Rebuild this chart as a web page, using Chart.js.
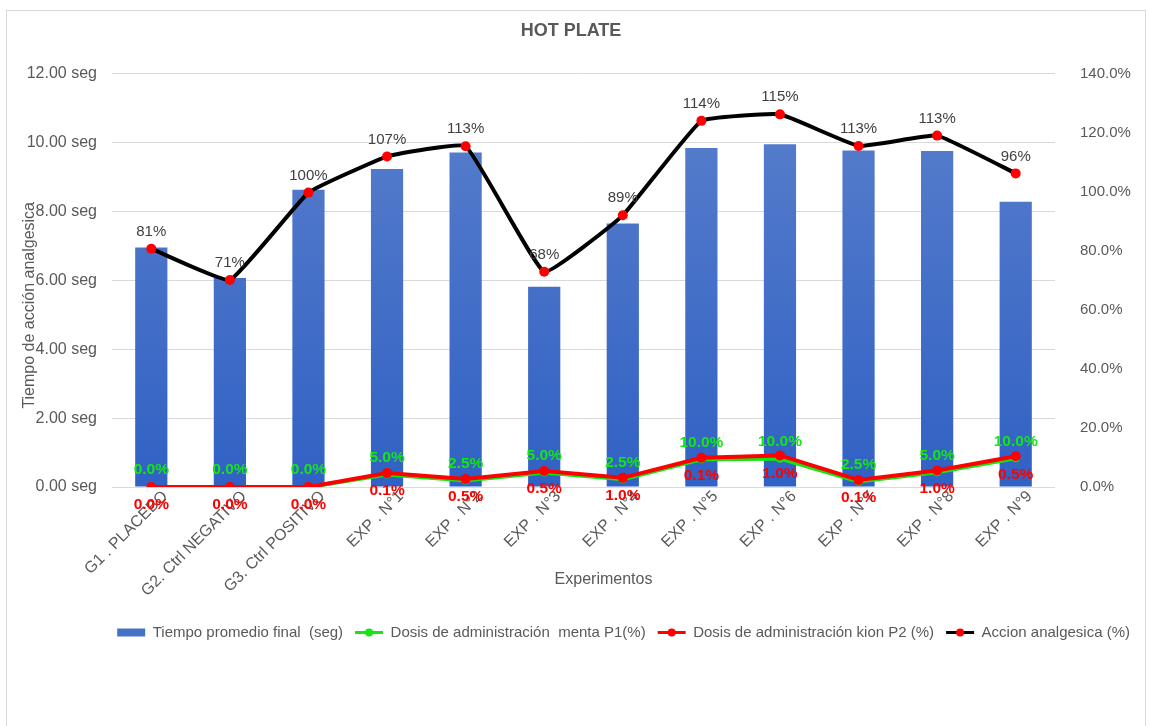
<!DOCTYPE html>
<html>
<head>
<meta charset="utf-8">
<title>HOT PLATE</title>
<script src="https://cdn.jsdelivr.net/npm/chart.js@4.4.1/dist/chart.umd.min.js"></script>
<style>
    html, body { margin: 0; padding: 0; background: #fff; overflow: hidden; }
    .frame { position: absolute; left: 6px; top: 10px; width: 1138px; height: 740px; border: 1px solid #d9d9d9; }
    .wrap { position: absolute; left: 0; top: 0; width: 1149px; height: 726px; }
</style>
</head>
<body>
<div class="frame"></div>
<div class="wrap"><canvas id="hotPlateChart"></canvas></div>
<script>
// Data
const categories = ['G1 . PLACEBO', 'G2. Ctrl NEGATIVO', 'G3. Ctrl POSITIVO', 'EXP . N°1', 'EXP . N°2', 'EXP . N°3',
    'EXP . N°4', 'EXP . N°5', 'EXP . N°6', 'EXP . N°7', 'EXP . N°8', 'EXP . N°9'];

// bars, left axis (seg)
const tiempoPromedio = [6.95, 6.07, 8.63, 9.23, 9.71, 5.81, 7.65, 9.84, 9.95, 9.77, 9.75, 8.28];

// lines, right axis (%)
const dosisMenta = [0, 0, 0, 4.2, 2.2, 4.9, 2.6, 9.4, 9.6, 1.9, 5.0, 9.7];
const dosisMentaLabels = ['0.0%', '0.0%', '0.0%', '5.0%', '2.5%', '5.0%', '2.5%', '10.0%', '10.0%', '2.5%', '5.0%', '10.0%'];

const dosisKion = [0, 0, 0, 4.7, 2.7, 5.4, 3.1, 9.9, 10.7, 2.4, 5.6, 10.4];
const dosisKionLabels = ['0.0%', '0.0%', '0.0%', '0.1%', '0.5%', '0.5%', '1.0%', '0.1%', '1.0%', '0.1%', '1.0%', '0.5%'];

const accionAnalgesica = [80.7, 70.1, 99.7, 111.9, 115.4, 72.9, 92.0, 124.0, 126.2, 115.5, 119.0, 106.2];
const accionLabels = ['81%', '71%', '100%', '107%', '113%', '68%', '89%', '114%', '115%', '113%', '113%', '96%'];

const seriesNames = ['Tiempo promedio final  (seg)', 'Dosis de administración  menta P1(%)',
    'Dosis de administración kion P2 (%)', 'Accion analgesica (%)'];

const FONT = '"Liberation Sans", Arial, sans-serif';
const GREY = '#595959';
const GREEN = '#14e614';
const RED = '#ff0000';

Chart.defaults.font.family = FONT;
Chart.defaults.color = GREY;

// bar fill: light blue on top fading to a deeper blue
function barGradient(context) {
    const area = context.chart.chartArea;
    if (!area) return '#4472c4';
    const g = context.chart.ctx.createLinearGradient(0, area.top, 0, area.bottom);
    g.addColorStop(0, '#5b80cc');
    g.addColorStop(1, '#3061c4');
    return g;
}

// value labels next to line points
const pointLabels = {
    id: 'pointLabels',
    afterDatasetsDraw(chart) {
        const ctx = chart.ctx;
        chart.data.datasets.forEach((ds, i) => {
            if (!ds.valueLabels) return;
            const meta = chart.getDatasetMeta(i);
            ctx.save();
            ctx.font = ds.labelFont;
            ctx.fillStyle = ds.labelColor;
            ctx.textAlign = 'center';
            ctx.textBaseline = 'middle';
            meta.data.forEach((pt, j) => {
                ctx.fillText(ds.valueLabels[j], pt.x, pt.y + ds.labelOffset);
            });
            ctx.restore();
        });
    }
};

// axis titles, placed like the original
const axisTitles = {
    id: 'axisTitles',
    afterDraw(chart) {
        const ctx = chart.ctx;
        const area = chart.chartArea;
        ctx.save();
        ctx.font = '16px ' + FONT;
        ctx.fillStyle = GREY;
        ctx.textAlign = 'center';
        ctx.textBaseline = 'middle';
        ctx.fillText('Experimentos', (area.left + area.right) / 2 + 20, 580);
        ctx.translate(30, (area.top + area.bottom) / 2 + 25);
        ctx.rotate(-Math.PI / 2);
        ctx.fillText('Tiempo de acción analgesica', 0, 0);
        ctx.restore();
    }
};

// marker dot in the middle of the line legend swatches
const legendDots = {
    id: 'legendDots',
    afterDraw(chart) {
        const legend = chart.legend;
        if (!legend || !legend.legendHitBoxes) return;
        const ctx = chart.ctx;
        const boxW = legend.options.labels.pointStyleWidth;
        legend.legendItems.forEach((item, i) => {
            if (!item.dotColor) return;
            const hb = legend.legendHitBoxes[i];
            ctx.save();
            ctx.fillStyle = item.dotColor;
            ctx.beginPath();
            ctx.arc(hb.left + boxW / 2, hb.top + hb.height / 2, 4, 0, Math.PI * 2);
            ctx.fill();
            ctx.restore();
        });
    }
};

const legendStyles = [
    { fillStyle: '#4472c4', strokeStyle: '#4472c4', lineWidth: 0, pointStyle: 'rect', dotColor: null },
    { fillStyle: GREEN, strokeStyle: GREEN, lineWidth: 3, pointStyle: 'line', dotColor: GREEN },
    { fillStyle: RED, strokeStyle: RED, lineWidth: 3, pointStyle: 'line', dotColor: RED },
    { fillStyle: '#000', strokeStyle: '#000', lineWidth: 3, pointStyle: 'line', dotColor: RED }
];

new Chart(document.getElementById('hotPlateChart'), {
    data: {
        labels: categories,
        datasets: [
            {
                type: 'bar',
                label: seriesNames[0],
                data: tiempoPromedio,
                yAxisID: 'y',
                backgroundColor: barGradient,
                barPercentage: 0.41,
                categoryPercentage: 1,
                order: 4
            },
            {
                type: 'line',
                label: seriesNames[1],
                data: dosisMenta,
                yAxisID: 'y1',
                borderColor: GREEN,
                borderWidth: 4,
                pointRadius: 4,
                pointBackgroundColor: GREEN,
                pointBorderWidth: 0,
                valueLabels: dosisMentaLabels,
                labelFont: 'bold 15.5px ' + FONT,
                labelColor: GREEN,
                labelOffset: -17,
                order: 3
            },
            {
                type: 'line',
                label: seriesNames[2],
                data: dosisKion,
                yAxisID: 'y1',
                borderColor: RED,
                borderWidth: 4,
                pointRadius: 5,
                pointBackgroundColor: RED,
                pointBorderWidth: 0,
                valueLabels: dosisKionLabels,
                labelFont: 'bold 15.5px ' + FONT,
                labelColor: RED,
                labelOffset: 18,
                order: 2
            },
            {
                type: 'line',
                label: seriesNames[3],
                data: accionAnalgesica,
                yAxisID: 'y1',
                borderColor: '#000000',
                borderWidth: 4,
                tension: 0.1,
                pointRadius: 5,
                pointBackgroundColor: RED,
                pointBorderWidth: 0,
                valueLabels: accionLabels,
                labelFont: '15px ' + FONT,
                labelColor: '#404040',
                labelOffset: -17,
                order: 1
            }
        ]
    },
    options: {
        responsive: true,
        maintainAspectRatio: false,
        animation: false,
        events: [],
        layout: {
            padding: { top: 0, right: 7, bottom: 76, left: 0 }
        },
        plugins: {
            title: {
                display: true,
                text: 'HOT PLATE',
                color: GREY,
                font: { size: 18, weight: 'bold' },
                padding: { top: 20, bottom: 32 }
            },
            legend: {
                position: 'bottom',
                align: 'end',
                labels: {
                    usePointStyle: true,
                    pointStyleWidth: 28,
                    boxHeight: 8,
                    padding: 12,
                    color: GREY,
                    font: { size: 15 },
                    generateLabels() {
                        return seriesNames.map((name, i) => Object.assign({
                            text: name,
                            hidden: false,
                            datasetIndex: i,
                            fontColor: GREY
                        }, legendStyles[i]));
                    }
                }
            },
            tooltip: { enabled: false }
        },
        scales: {
            x: {
                grid: { display: false },
                border: { display: false },
                ticks: {
                    minRotation: 45,
                    maxRotation: 45,
                    padding: -8,
                    labelOffset: 14,
                    color: GREY,
                    font: { size: 16 }
                },
                afterFit(scale) {
                    scale.height = 126;
                }
            },
            y: {
                position: 'left',
                min: 0,
                max: 12,
                ticks: {
                    stepSize: 2,
                    padding: 15,
                    color: GREY,
                    font: { size: 16 },
                    callback: v => v.toFixed(2) + ' seg'
                },
                grid: { color: '#d9d9d9', drawTicks: false },
                border: { display: false },
                afterFit(scale) {
                    scale.width = 112;
                }
            },
            y1: {
                position: 'right',
                min: 0,
                max: 140,
                ticks: {
                    stepSize: 20,
                    padding: 25,
                    color: GREY,
                    font: { size: 15 },
                    callback: v => v.toFixed(1) + '%'
                },
                grid: { display: false, drawTicks: false },
                border: { display: false },
                afterFit(scale) {
                    scale.width = 87;
                }
            }
        }
    },
    plugins: [pointLabels, axisTitles, legendDots]
});
</script>
</body>
</html>
